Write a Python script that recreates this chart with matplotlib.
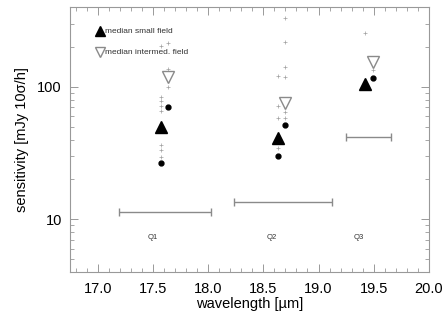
import matplotlib
matplotlib.use("Agg")
import matplotlib.pyplot as plt
from matplotlib.ticker import MultipleLocator, LogLocator, NullFormatter, FixedLocator

plt.rcParams['font.family'] = ['Liberation Sans', 'DejaVu Sans']

# Filter groups
filters = ["Q1", "Q2", "Q3"]
label_x = [17.5, 18.58, 19.36]
label_y = [7.3, 7.3, 7.3]

# Wavelength ranges (horizontal bars)
range_lo = [17.19, 18.23, 19.25]
range_hi = [18.03, 19.12, 19.66]
range_y = [11.3, 13.6, 42.0]

# Median small field (filled triangles)
small_x = [17.57, 18.63, 19.42]
small_med = [50.0, 41.4, 105.0]
# Best small field (filled circles, lower)
small_best_x = [17.57, 18.63]
small_best = [26.8, 29.8]

# Median intermediate field (open triangles)
inter_x = [17.64, 18.70, 19.49]
inter_med = [119.0, 76.0, 155.0]
# Filled circles near intermediate column
inter_best_x = [17.64, 18.70, 19.49]
inter_best = [70.7, 51.8, 117.0]

# individual measurements (gray crosses)
q1_small_vals = [203, 84, 78.5, 72, 66, 36.6, 33.6, 29.3]
q1_inter_vals = [214, 136, 127, 100]
q2_small_vals = [121, 72, 58.5, 34.8]
q2_inter_vals = [330, 218, 141, 119, 64, 58.5]
q3_small_vals = [255]
q3_inter_vals = [134]

fig = plt.figure(figsize=(4.44, 3.20), dpi=100)
ax = fig.add_axes([0.158, 0.15, 0.808, 0.828])
ax.set_yscale('log')
ax.set_xlim(16.75, 20.0)
ax.set_ylim(4.0, 400.0)

gray = '#8a8a8a'
for xv, vals in [(small_x[0], q1_small_vals), (inter_x[0], q1_inter_vals),
                 (small_x[1], q2_small_vals), (inter_x[1], q2_inter_vals),
                 (small_x[2], q3_small_vals), (inter_x[2], q3_inter_vals)]:
    ax.plot([xv] * len(vals), vals, linestyle='none', marker='+', color='#a0a0a0',
            markersize=2.5, markeredgewidth=0.5)

# ranges
for lo, hi, yv in zip(range_lo, range_hi, range_y):
    ax.errorbar([(lo + hi) / 2], [yv], xerr=[[(hi - lo) / 2], [(hi - lo) / 2]],
                fmt='none', ecolor=gray, elinewidth=1.0, capsize=3, capthick=1.0)

ax.plot(small_x, small_med, linestyle='none', marker='^', color='black', markersize=9)
ax.plot(small_best_x, small_best, linestyle='none', marker='o', color='black', markersize=3.5)
ax.plot(inter_best_x, inter_best, linestyle='none', marker='o', color='black', markersize=3.5)
ax.plot(inter_x, inter_med, linestyle='none', marker='v', markerfacecolor='white',
        markeredgecolor=gray, markeredgewidth=1.0, markersize=9)

for name, lx, ly in zip(filters, label_x, label_y):
    ax.text(lx, ly, name, fontsize=5.5, ha='center', va='center', color='#333333')

# legend
ax.plot([0.083], [0.909], transform=ax.transAxes, marker='^', color='black',
        markersize=7, linestyle='none', clip_on=False)
ax.text(0.098, 0.909, "median small field", transform=ax.transAxes, fontsize=6,
        va='center', ha='left', color='#333333')
ax.plot([0.083], [0.83], transform=ax.transAxes, marker='v', markerfacecolor='white',
        markeredgecolor=gray, markersize=7, linestyle='none', clip_on=False)
ax.text(0.098, 0.83, "median intermed. field", transform=ax.transAxes, fontsize=6,
        va='center', ha='left', color='#333333')

ax.xaxis.set_major_locator(MultipleLocator(0.5))
ax.xaxis.set_minor_locator(MultipleLocator(0.1))
ax.xaxis.set_major_formatter(matplotlib.ticker.FormatStrFormatter('%.1f'))
ax.yaxis.set_major_locator(FixedLocator([10, 100]))
ax.yaxis.set_major_formatter(matplotlib.ticker.FixedFormatter(['10', '100']))
ax.yaxis.set_minor_locator(LogLocator(base=10, subs=range(2, 10)))
ax.yaxis.set_minor_formatter(NullFormatter())

for s in ax.spines.values():
    s.set_color('#999999')
    s.set_linewidth(0.8)
ax.tick_params(which='both', direction='in', top=True, right=True, color='#999999')
ax.tick_params(which='major', length=6, labelsize=10.5, width=0.7)
ax.tick_params(axis='x', which='major', pad=7)
ax.tick_params(axis='y', which='major', pad=6)
ax.tick_params(which='minor', length=3, width=0.6)

ax.set_xlabel("wavelength [\u00b5m]", fontsize=10.5, labelpad=1)
ax.set_ylabel("sensitivity [mJy 10\u03c3/h]", fontsize=10.5, labelpad=6)

fig.savefig("out.png", dpi=100)
